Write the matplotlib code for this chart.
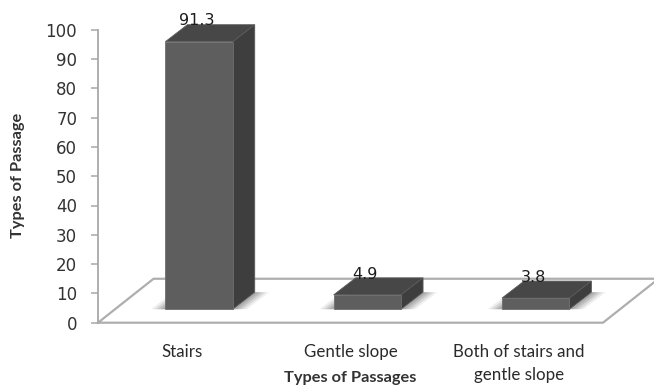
import matplotlib
matplotlib.use("Agg")
import matplotlib.pyplot as plt
from matplotlib.patches import Polygon

# Data
categories = ["Stairs", "Gentle slope", "Both of stairs and\ngentle slope"]
values = [91.3, 4.9, 3.8]
yticks = list(range(0, 101, 10))

# Fake 3D geometry, in axis units (x = categories, y = percent)
bar_width = 0.40
floor_dx, floor_dy = 0.33, 15
bar_dx, bar_dy = 0.131, 5.8
inset_x, inset_y = 0.10, 4.6

W, H = 654, 385
fig = plt.figure(figsize=(W / 100, H / 100), dpi=100)
ax = fig.add_axes([98 / W, 1 - 322.7 / H, 505 / W, 293 / H])
ax.set_xlim(0, 3)
ax.set_ylim(0, 100)
ax.patch.set_visible(False)

# Floor outline
floor_x = [0, 3, 3 + floor_dx, floor_dx, 0]
floor_y = [0, 0, floor_dy, floor_dy, 0]
ax.plot(floor_x, floor_y, color="#aeaeae", lw=1.6, clip_on=False, zorder=1)

# Bars: soft shadow on the floor, then top, side and front faces
for i, v in enumerate(values):
    x0 = i + 0.5 - bar_width / 2 + inset_x
    x1 = x0 + bar_width
    y0 = inset_y
    y1 = y0 + v

    for grow, alpha in [(0.085, 0.14), (0.065, 0.22), (0.045, 0.3), (0.025, 0.4)]:
        ax.add_patch(Polygon(
            [(x0 - grow, y0), (x1 + grow, y0), (x1 + bar_dx + grow, y0 + bar_dy),
             (x0 + bar_dx - grow, y0 + bar_dy)],
            closed=True, fc="#8c8c8c", ec="none", alpha=alpha, zorder=2, clip_on=False))

    ax.add_patch(Polygon([(x0, y1), (x1, y1), (x1 + bar_dx, y1 + bar_dy), (x0 + bar_dx, y1 + bar_dy)],
                         closed=True, fc="#474747", ec="#5a5a5a", lw=0.6, zorder=3, clip_on=False))
    ax.add_patch(Polygon([(x1, y0), (x1 + bar_dx, y0 + bar_dy), (x1 + bar_dx, y1 + bar_dy), (x1, y1)],
                         closed=True, fc="#3e3e3e", ec="#5a5a5a", lw=0.6, zorder=3, clip_on=False))
    ax.add_patch(Polygon([(x0, y0), (x1, y0), (x1, y1), (x0, y1)],
                         closed=True, fc="#5e5e5e", ec="#6e6e6e", lw=0.6, zorder=4, clip_on=False))

    ax.annotate(f"{v}", xy=((x0 + x1) / 2, y1), xytext=(-1.5, 15), textcoords="offset points",
                ha="center", va="center", fontsize=11.5, color="#1c1c1c",
                family="DejaVu Sans", zorder=5, annotation_clip=False)

# Axes
for side in ["top", "right", "bottom"]:
    ax.spines[side].set_visible(False)
ax.spines["left"].set_color("#a8a8a8")
ax.spines["left"].set_linewidth(1.3)

ax.set_yticks(yticks)
ax.tick_params(axis="y", length=5, width=1.1, color="#a8a8a8", pad=10,
               labelsize=12, labelcolor="#333333")
ax.set_xticks([i + 0.5 for i in range(len(categories))])
ax.set_xticklabels(categories, family="Lato", fontsize=12.2, color="#2a2a2a", linespacing=1.6)
ax.tick_params(axis="x", length=0, pad=15)
for label in ax.get_xticklabels():
    label.set_verticalalignment("top")

fig.text(18 / W, 1 - 175 / H, "Types of Passage", rotation=90, ha="center", va="center",
         family="Lato", fontweight="bold", fontsize=11.8, color="#333333")
fig.text(350 / W, 1 - 378 / H, "Types of Passages", ha="center", va="center",
         family="Lato", fontweight="bold", fontsize=11.8, color="#333333")

fig.savefig("out.png", dpi=100, facecolor="white")
